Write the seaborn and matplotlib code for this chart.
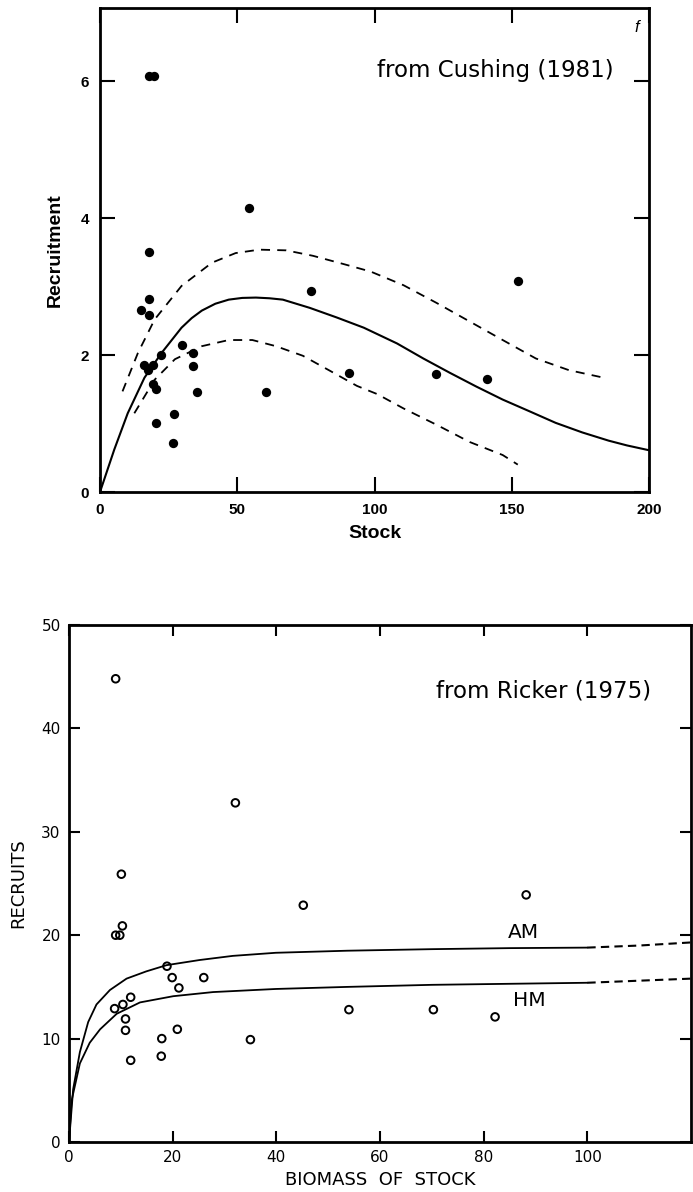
import matplotlib
matplotlib.use("Agg")
import matplotlib.pyplot as plt
import seaborn as sns

# ---- panel 1: Cushing (1981) ----
cush_stock = [18.0, 19.6, 54.1, 17.8, 17.8, 15.0, 17.8, 76.8, 30.0, 22.4, 33.8, 33.7, 16.2,
              19.3, 17.4, 19.3, 20.5, 35.5, 60.6, 90.8, 27.0, 20.3, 26.7, 122.4, 141.0, 152.2]
cush_recr = [6.07, 6.07, 4.15, 3.50, 2.82, 2.66, 2.58, 2.93, 2.15, 2.00, 2.03, 1.84, 1.86,
             1.86, 1.78, 1.58, 1.51, 1.46, 1.46, 1.74, 1.14, 1.01, 0.72, 1.72, 1.65, 3.08]

fit_x = [0, 5.2, 10.1, 16.2, 22.4, 29.7, 33.4, 37.1, 42.0, 46.9, 51.8, 56.8, 61.7, 66.6,
         76.4, 86.2, 96.1, 108.2, 117.8, 127.5, 137.1, 146.7, 156.4, 166.0, 175.7, 185.3,
         192.0, 200.0]
fit_y = [0, 0.62, 1.15, 1.67, 2.03, 2.40, 2.54, 2.65, 2.75, 2.81, 2.835, 2.84, 2.83, 2.81,
         2.69, 2.55, 2.40, 2.17, 1.95, 1.74, 1.54, 1.35, 1.18, 1.01, 0.87, 0.75, 0.68, 0.61]
upper_x = [8.2, 13.8, 19.9, 29.7, 40.8, 49.4, 58.0, 67.8, 77.6, 88.7, 98.6, 110.6, 122.7,
           134.7, 146.7, 158.8, 170.8, 182.3]
upper_y = [1.47, 2.03, 2.52, 3.01, 3.35, 3.49, 3.54, 3.53, 3.45, 3.33, 3.22, 3.02, 2.76,
           2.49, 2.22, 1.95, 1.78, 1.68]
lower_x = [12.5, 19.9, 27.3, 37.1, 46.9, 55.5, 64.1, 73.9, 83.8, 93.6, 101.0, 110.6, 122.7,
           134.7, 146.7, 152.2]
lower_y = [1.15, 1.64, 1.94, 2.13, 2.22, 2.22, 2.13, 1.99, 1.77, 1.55, 1.43, 1.22, 0.98,
           0.73, 0.54, 0.40]

# ---- panel 2: Ricker (1975) ----
ricker_stock = [9.0, 32.1, 10.1, 45.2, 10.3, 9.0, 9.8, 18.9, 19.9, 21.2, 26.0, 8.8, 10.4,
                11.9, 10.9, 10.9, 11.9, 17.9, 17.8, 20.9, 35.0, 54.0, 70.3, 82.2, 88.2]
ricker_recr = [44.8, 32.8, 25.9, 22.9, 20.9, 20.0, 20.0, 17.0, 15.9, 14.9, 15.9, 12.9, 13.3,
               14.0, 11.9, 10.8, 7.9, 10.0, 8.3, 10.9, 9.9, 12.8, 12.8, 12.1, 23.9]

am_x = [0, 0.8, 2.1, 3.7, 5.3, 7.9, 11.1, 14.9, 18.8, 25.2, 31.6, 39.9, 53.7, 70, 85, 100]
am_y = [0, 5.1, 8.7, 11.6, 13.3, 14.7, 15.8, 16.5, 17.1, 17.6, 18.0, 18.3, 18.5, 18.65, 18.75, 18.8]
am_ext_x = [100, 110, 120]
am_ext_y = [18.8, 19.0, 19.3]
hm_x = [0, 0.5, 2.1, 4.0, 6.0, 9.2, 13.7, 20.1, 27.8, 39.9, 53.7, 70, 85, 100]
hm_y = [0, 4.0, 7.6, 9.6, 10.9, 12.4, 13.5, 14.1, 14.5, 14.8, 15.0, 15.2, 15.3, 15.4]
hm_ext_x = [100, 110, 120]
hm_ext_y = [15.4, 15.6, 15.8]

sns.set_theme(style="white")
plt.rcParams["font.family"] = ["Liberation Sans", "DejaVu Sans"]
plt.rcParams.update({"text.color": "black", "axes.labelcolor": "black",
                     "xtick.color": "black", "ytick.color": "black"})

W, H = 693, 1192
fig = plt.figure(figsize=(W / 100, H / 100), dpi=100)

# top panel
ax1 = fig.add_axes([100 / W, 1 - 492 / H, 549 / W, 484 / H])
sns.lineplot(x=fit_x, y=fit_y, ax=ax1, color="black", lw=1.5, sort=False, estimator=None)
sns.lineplot(x=upper_x, y=upper_y, ax=ax1, color="black", lw=1.3, sort=False,
             estimator=None, linestyle=(0, (5, 4)))
sns.lineplot(x=lower_x, y=lower_y, ax=ax1, color="black", lw=1.3, sort=False,
             estimator=None, linestyle=(0, (5, 4)))
sns.scatterplot(x=cush_stock, y=cush_recr, ax=ax1, color="black", s=45, edgecolor="black",
                linewidth=0, zorder=5)
ax1.set_xlim(0, 200)
ax1.set_ylim(0, 7.07)
ax1.set_xticks([0, 50, 100, 150, 200])
ax1.set_yticks([0, 2, 4, 6])
ax1.tick_params(direction="in", length=11, width=1.5, top=True, right=True, bottom=True,
                left=True, labelsize=11, pad=8, color="black")
for lab in ax1.get_xticklabels() + ax1.get_yticklabels():
    lab.set_fontweight("bold")
ax1.set_xlabel("Stock", fontsize=14, fontweight="bold", labelpad=6)
ax1.set_ylabel("Recruitment", fontsize=14, fontweight="bold", labelpad=12)
ax1.text(187, 6.15, "from Cushing (1981)", fontsize=16.5, family="DejaVu Sans",
         ha="right", va="center")
ax1.text(195.5, 6.78, "f", fontsize=12, style="italic", ha="center", va="center")
for sp in ax1.spines.values():
    sp.set_linewidth(2.0)
    sp.set_color("black")

# bottom panel
ax2 = fig.add_axes([69 / W, 1 - 1142 / H, 622 / W, 517 / H])
sns.lineplot(x=am_x, y=am_y, ax=ax2, color="black", lw=1.3, sort=False, estimator=None)
sns.lineplot(x=hm_x, y=hm_y, ax=ax2, color="black", lw=1.3, sort=False, estimator=None)
sns.lineplot(x=am_ext_x, y=am_ext_y, ax=ax2, color="black", lw=1.5, sort=False,
             estimator=None, linestyle=(0, (4, 2.5)))
sns.lineplot(x=hm_ext_x, y=hm_ext_y, ax=ax2, color="black", lw=1.5, sort=False,
             estimator=None, linestyle=(0, (4, 2.5)))
sns.scatterplot(x=ricker_stock, y=ricker_recr, ax=ax2, s=30, facecolor="none",
                edgecolor="black", linewidth=1.4, zorder=5)
ax2.set_xlim(0, 120)
ax2.set_ylim(0, 50)
ax2.set_xticks([0, 20, 40, 60, 80, 100])
ax2.set_yticks([0, 10, 20, 30, 40, 50])
ax2.tick_params(direction="in", length=8, width=1.5, top=True, right=True, bottom=True,
                left=True, labelsize=11, pad=6, color="black")
for lab in ax2.get_xticklabels() + ax2.get_yticklabels():
    lab.set_family("DejaVu Sans")
ax2.set_xlabel("BIOMASS  OF  STOCK", fontsize=13, family="DejaVu Sans", labelpad=4)
ax2.set_ylabel("RECRUITS", fontsize=13, family="DejaVu Sans", labelpad=10)
ax2.text(112.3, 43.6, "from Ricker (1975)", fontsize=16.5, family="DejaVu Sans",
         ha="right", va="center")
ax2.text(87.6, 20.3, "AM", fontsize=14.5, family="DejaVu Sans", ha="center", va="center")
ax2.text(88.8, 13.7, "HM", fontsize=14.5, family="DejaVu Sans", ha="center", va="center")
for sp in ax2.spines.values():
    sp.set_linewidth(2.0)
    sp.set_color("black")

fig.savefig("out.png", dpi=100)
